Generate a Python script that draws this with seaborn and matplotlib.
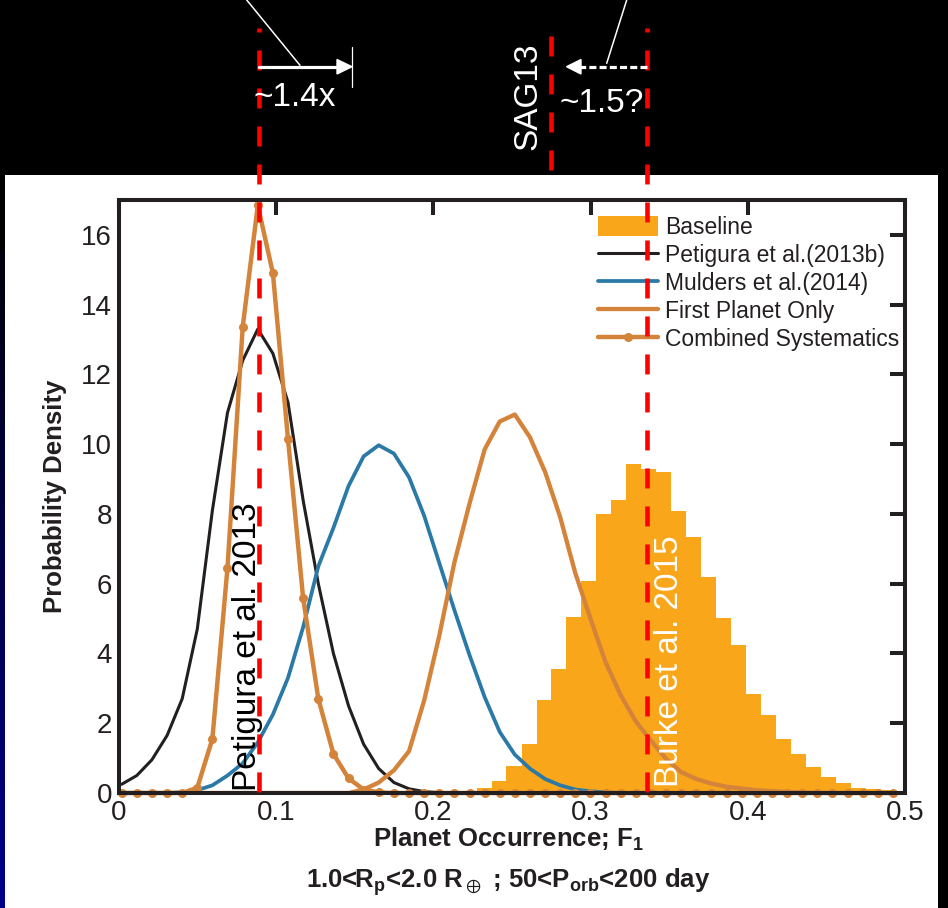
import numpy as np
import pandas as pd
import matplotlib
matplotlib.use("Agg")
import matplotlib.pyplot as plt
import seaborn as sns
from matplotlib.patches import Rectangle, Patch, Polygon
from matplotlib.lines import Line2D

# ---------------- data ----------------
occ_grid = [0.0017, 0.0113, 0.0209, 0.0306, 0.0402, 0.0498, 0.0594, 0.0690, 0.0787, 0.0883,
            0.0979, 0.1075, 0.1171, 0.1268, 0.1364, 0.1460, 0.1556, 0.1652, 0.1749, 0.1845,
            0.1941, 0.2037, 0.2133, 0.2230, 0.2326, 0.2422, 0.2518, 0.2614, 0.2711, 0.2807,
            0.2903, 0.2999, 0.3095, 0.3192, 0.3288, 0.3384, 0.3480, 0.3576, 0.3673, 0.3769,
            0.3865, 0.3961, 0.4057, 0.4154, 0.4250, 0.4346, 0.4442, 0.4538, 0.4635, 0.4731,
            0.4827, 0.4923]

petigura = [0.25, 0.5, 0.95, 1.65, 2.7, 4.7, 8.1, 10.9, 12.4, 13.3,
            12.6, 11.2, 8.4, 6.0, 4.0, 2.5, 1.4, 0.7, 0.3, 0.12,
            0.04, 0.01, 0, 0, 0, 0, 0, 0, 0, 0,
            0, 0, 0, 0, 0, 0, 0, 0, 0, 0,
            0, 0, 0, 0, 0, 0, 0, 0, 0, 0,
            0, 0]

mulders = [0, 0, 0, 0, 0.02, 0.08, 0.22, 0.5, 0.85, 1.45,
           2.25, 3.3, 4.75, 6.5, 7.6, 8.8, 9.65, 9.97, 9.73, 9.05,
           7.95, 6.6, 5.25, 3.95, 2.75, 1.75, 1.1, 0.7, 0.4, 0.22,
           0.1, 0.05, 0.02, 0, 0, 0, 0, 0, 0, 0,
           0, 0, 0, 0, 0, 0, 0, 0, 0, 0,
           0, 0]

first_planet = [0, 0, 0, 0, 0, 0, 0, 0, 0, 0,
                0, 0, 0, 0, 0, 0, 0.1, 0.3, 0.65, 1.2,
                2.65, 4.5, 6.6, 8.3, 9.85, 10.65, 10.85, 10.2, 9.2, 7.9,
                6.3, 5.0, 3.75, 2.8, 2.05, 1.5, 0.98, 0.6, 0.4, 0.27,
                0.18, 0.13, 0.08, 0.05, 0.03, 0.02, 0, 0, 0, 0,
                0, 0]

combined = [0, 0, 0, 0, 0, 0.15, 1.55, 6.45, 13.36, 16.85,
            14.9, 10.15, 5.6, 2.7, 1.12, 0.42, 0.1, 0.02, 0, 0,
            0, 0, 0, 0, 0, 0, 0, 0, 0, 0,
            0, 0, 0, 0, 0, 0, 0, 0, 0, 0,
            0, 0, 0, 0, 0, 0, 0, 0, 0, 0,
            0, 0]

baseline_edges = [0.2275, 0.2370, 0.2465, 0.2561, 0.2656, 0.2751, 0.2846, 0.2941, 0.3037, 0.3132,
                  0.3227, 0.3322, 0.3417, 0.3513, 0.3608, 0.3703, 0.3798, 0.3893, 0.3989, 0.4084,
                  0.4179, 0.4274, 0.4369, 0.4465, 0.4560, 0.4655, 0.4750, 0.4845, 0.4941]
baseline_density = [0.13, 0.35, 0.78, 1.40, 2.66, 3.56, 5.05, 6.08, 7.99, 8.39,
                    9.42, 9.28, 9.21, 8.08, 7.35, 6.20, 5.02, 4.23, 2.84, 2.23,
                    1.55, 1.12, 0.74, 0.47, 0.28, 0.15, 0.11, 0.08]

xticks = [0, 0.1, 0.2, 0.3, 0.4, 0.5]
xtick_labels = ["0", "0.1", "0.2", "0.3", "0.4", "0.5"]
yticks = [0, 2, 4, 6, 8, 10, 12, 14, 16]
ytick_labels = ["0", "2", "4", "6", "8", "10", "12", "14", "16"]

series_labels = ["Baseline", "Petigura et al.(2013b)", "Mulders et al.(2014)",
                 "First Planet Only", "Combined Systematics"]

petigura_2013 = 0.0889   # reference lines
burke_2015 = 0.3357
sag13 = 0.2746

# ---------------- style ----------------
sns.set_style("white")
plt.rcParams["font.family"] = ["Liberation Sans", "DejaVu Sans"]
plt.rcParams["mathtext.fontset"] = "custom"
plt.rcParams["mathtext.default"] = "regular"
plt.rcParams["mathtext.fallback"] = "stixsans"

INK = "#231f20"
C_HIST = "#FAA61A"
C_BLUE = "#2a79a6"
C_ORNG = "#D4843A"
W, H = 948, 908

fig = plt.figure(figsize=(W / 100, H / 100), dpi=100)
fig.patch.set_facecolor("black")

# white panel
fig.add_artist(Rectangle((5 / W, 0), (938 - 5) / W, (H - 175) / H, transform=fig.transFigure,
                         facecolor="white", edgecolor="none", zorder=-10))
# left blue gradient strip
gax = fig.add_axes([0, 0, 5 / W, (H - 250) / H], zorder=-9)
grad = np.linspace(0, 1, 256)[:, None]
gimg = np.dstack([np.zeros_like(grad), np.zeros_like(grad), 0.05 + 0.5 * grad])
gax.imshow(gimg, aspect="auto", extent=[0, 1, 1, 0])
gax.axis("off")

ax = fig.add_axes([119 / W, 115 / H, 786 / W, 593 / H])
ax.set_facecolor("white")

# histogram (baseline)
centers = [(a + b) / 2 for a, b in zip(baseline_edges[:-1], baseline_edges[1:])]
hist_df = pd.DataFrame({"F1": centers, "dens": baseline_density})
sns.histplot(data=hist_df, x="F1", weights="dens", bins=baseline_edges, stat="count",
             color=C_HIST, alpha=1.0, linewidth=0, edgecolor="none", ax=ax, zorder=1)

curves = pd.DataFrame({"F1": occ_grid, "pet": petigura, "mul": mulders,
                       "first": first_planet, "comb": combined})
sns.lineplot(data=curves, x="F1", y="pet", color=INK, linewidth=2.2, ax=ax, zorder=2)
sns.lineplot(data=curves, x="F1", y="mul", color=C_BLUE, linewidth=2.7, ax=ax, zorder=2)
sns.lineplot(data=curves, x="F1", y="first", color=C_ORNG, linewidth=3.1, ax=ax, zorder=2)
sns.lineplot(data=curves, x="F1", y="comb", color=C_ORNG, linewidth=3.2, marker="o",
             markersize=6.5, markeredgewidth=0, ax=ax, zorder=2)
ax.lines[-1].set_clip_on(False)

ax.set_xlim(0, 0.5)
ax.set_ylim(0, 17)
ax.set_xticks(xticks)
ax.set_xticklabels(xtick_labels)
ax.set_yticks(yticks)
ax.set_yticklabels(ytick_labels)
ax.tick_params(direction="in", length=10.8, width=2.9, top=True, right=True,
               labelsize=20, colors=INK, pad=5)
for s in ax.spines.values():
    s.set_linewidth(2.9)
    s.set_color(INK)
    s.set_visible(True)

ax.set_ylabel("Probability Density", fontweight="bold", fontsize=18.5, color=INK)
ax.yaxis.set_label_coords((67 - 119) / 786, 0.5)
ax.set_xlabel("Planet Occurrence; F$_1$", fontweight="bold", fontsize=18.5, color=INK)
ax.xaxis.set_label_coords((508 - 119) / 786, -(847 - 793) / 593)
ax.xaxis.label.set_va("baseline")
fig.text(508 / W, 1 - 888 / H, r"1.0<R$_p$<2.0 R$_\oplus$ ; 50<P$_{orb}$<200 day",
         ha="center", va="baseline", fontweight="bold", fontsize=18.5, color=INK)

# legend
handles = [Patch(facecolor=C_HIST, edgecolor="none"),
           Line2D([], [], color=INK, lw=2.2),
           Line2D([], [], color=C_BLUE, lw=2.7),
           Line2D([], [], color=C_ORNG, lw=3.1),
           Line2D([], [], color=C_ORNG, lw=3.2, marker="o", markersize=6.5, markeredgewidth=0)]
leg = ax.legend(handles, series_labels, loc="upper left",
                bbox_to_anchor=(598 / W, 1 - 216 / H), bbox_transform=fig.transFigure,
                frameon=False, fontsize=16.5, handlelength=2.62, handleheight=0.96,
                handletextpad=0.3, labelspacing=0.215, borderpad=0, borderaxespad=0)
for t in leg.get_texts():
    t.set_color(INK)

# reference lines (red dashed), extending into the black header
px2data = 17 / 593.0
def ypx(p):
    return (793 - p) * px2data

lw_red = 3.3
dash = (4.36, 3.93)
ax.plot([petigura_2013, petigura_2013], [ypx(28), 0], color="red", lw=lw_red,
        linestyle=(3.49, dash), clip_on=False, zorder=6)
ax.plot([burke_2015, burke_2015], [ypx(28), 0], color="red", lw=lw_red,
        linestyle=(3.49, dash), clip_on=False, zorder=6)
ax.plot([sag13, sag13], [ypx(36), ypx(172)], color="red", lw=lw_red,
        linestyle=(0, dash), clip_on=False, zorder=6)

ax.text(0.0820, 0.05, "Petigura et al. 2013", rotation=90, ha="center", va="bottom",
        fontsize=24, color="black", zorder=3)
ax.text(0.3500, 0.17, "Burke et al. 2015", rotation=90, ha="center", va="bottom",
        fontsize=24, color="white", zorder=3)

# header annotations in pixel coordinates
ov = fig.add_axes([0, 0, 1, 1], zorder=5)
ov.set_xlim(0, W)
ov.set_ylim(H, 0)
ov.axis("off")
ov.patch.set_alpha(0)

ov.plot([246.7, 300], [0, 65.3], color="white", lw=1.1)
ov.plot([258.7, 338], [66.7, 66.7], color="white", lw=2.3)
ov.add_patch(Polygon([(337, 59.5), (352, 66.7), (337, 74)], closed=True, color="white"))
ov.plot([351.7, 351.7], [47, 87], color="white", lw=0.9)
ov.text(295, 97, "~1.4x", ha="center", va="center", fontsize=24, color="white")

ov.plot([626.7, 606.7], [0, 63.3], color="white", lw=1.1)
ov.plot([646.7, 580], [66.7, 66.7], color="white", lw=2.3, linestyle=(0, (2.2, 1.0)))
ov.add_patch(Polygon([(581, 59.5), (566.5, 66.7), (581, 74)], closed=True, color="white"))
ov.text(602, 103, "~1.5?", ha="center", va="center", fontsize=24, color="white")
ov.text(528, 96, "SAG13", rotation=90, ha="center", va="center", fontsize=24, color="white")

fig.savefig("out.png", dpi=100, facecolor=fig.get_facecolor())
